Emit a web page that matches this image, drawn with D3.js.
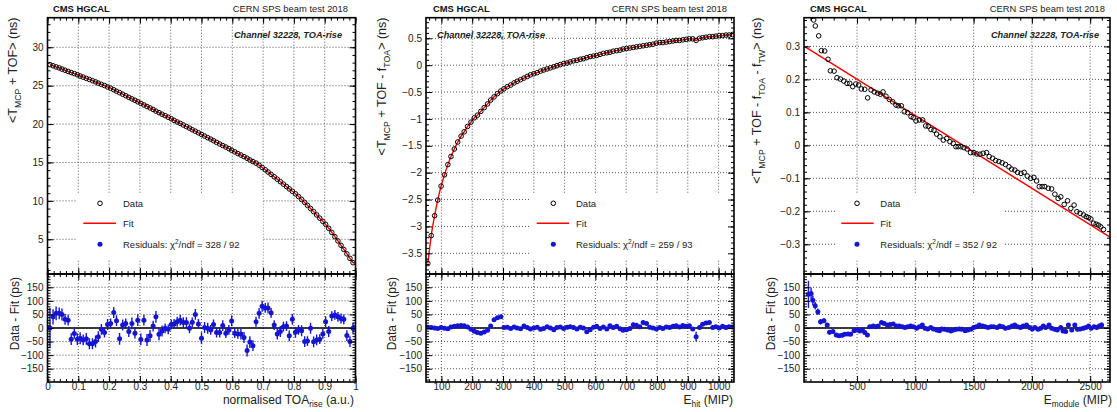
<!DOCTYPE html>
<html><head><meta charset="utf-8">
<script src="https://cdn.jsdelivr.net/npm/d3@7"></script>
<style>body{margin:0;background:#fff}svg{display:block;font-family:"Liberation Sans",Arial,Helvetica,sans-serif}</style>
</head><body><script>
// ---------------- Panel 1 : normalised TOA_rise ----------------
const toaRise = [0.008,0.018,0.028,0.038,0.047,0.057,0.067,0.077,0.087,0.097,
0.106,0.116,0.126,0.136,0.146,0.156,0.165,0.175,0.185,0.195,
0.205,0.215,0.224,0.234,0.244,0.254,0.264,0.274,0.284,0.293,
0.303,0.313,0.323,0.333,0.343,0.352,0.362,0.372,0.382,0.392,
0.402,0.411,0.421,0.431,0.441,0.451,0.461,0.470,0.480,0.490,
0.500,0.510,0.520,0.530,0.539,0.549,0.559,0.569,0.579,0.589,
0.598,0.608,0.618,0.628,0.638,0.648,0.657,0.667,0.677,0.687,
0.697,0.707,0.716,0.726,0.736,0.746,0.756,0.766,0.776,0.785,
0.795,0.805,0.815,0.825,0.835,0.844,0.854,0.864,0.874,0.884,
0.894,0.903,0.913,0.923,0.933,0.943,0.953,0.962,0.972,0.982,
0.992];
const meanT1 = [27.74,27.59,27.44,27.31,27.16,27.01,26.86,26.71,26.57,26.42,
26.26,26.11,25.95,25.81,25.65,25.49,25.33,25.17,25.02,24.83,
24.67,24.47,24.27,24.09,23.89,23.69,23.48,23.28,23.10,22.90,
22.69,22.49,22.29,22.10,21.90,21.69,21.49,21.28,21.10,20.89,
20.69,20.48,20.27,20.09,19.88,19.67,19.47,19.26,19.07,18.86,
18.65,18.44,18.23,18.04,17.84,17.62,17.41,17.20,17.01,16.80,
16.59,16.38,16.16,15.97,15.76,15.55,15.33,15.12,14.92,14.65,
14.35,14.05,13.76,13.45,13.14,12.82,12.50,12.18,11.86,11.56,
11.25,10.92,10.56,10.19,9.80,9.42,9.01,8.60,8.17,7.75,
7.33,6.94,6.43,5.90,5.34,4.78,4.22,3.68,3.10,2.52,
1.95];
const resid1 = [0,41,54,54,50,32,29,-41,-20,-41,
-38,-44,-40,-58,-58,-50,-32,-5,-17,13,
17,57,27,-40,11,17,-13,17,-19,29,
-42,29,-44,-29,7,41,-23,-11,-1,-5,
13,15,23,29,20,20,-1,21,50,15,
-38,2,-1,-7,13,-17,-17,9,-19,-7,
26,-19,-22,-22,-35,-83,-52,-65,23,54,
80,74,74,56,11,-22,-13,5,7,-29,
32,-16,-7,-10,-50,-48,-1,-51,-44,-41,
-22,23,-13,44,48,41,35,32,-28,-50,
-1];
const err1 = [75,28,25,22,22,20,20,22,20,22,
22,20,22,20,20,22,20,20,18,20,
18,20,20,22,20,18,20,22,20,22,
22,20,22,22,20,22,22,20,18,18,
18,18,18,20,20,20,18,18,20,18,
22,20,20,18,18,18,18,20,18,18,
20,18,18,20,20,22,22,20,18,20,
20,18,20,18,18,20,20,18,18,20,
20,20,18,20,20,18,20,20,20,18,
18,20,20,18,18,18,18,18,20,20,
20];

// ---------------- Panel 2 : E_hit ----------------
const eHit = [56,67,78,88,99,110,121,131,142,153,
164,174,185,196,207,217,228,239,250,260,
271,282,293,303,314,325,336,346,357,368,
379,389,400,411,422,432,443,454,465,475,
486,497,508,518,529,540,551,561,572,583,
594,604,615,626,637,647,658,669,680,690,
701,712,723,733,744,755,766,776,787,798,
809,819,830,841,852,862,873,884,895,905,
916,927,938,948,959,970,981,991,1002,1013,
1024,1034,1045];
const meanT2 = [-3.69,-3.17,-2.80,-2.51,-2.25,-2.04,-1.85,-1.70,-1.56,-1.43,
-1.32,-1.24,-1.14,-1.06,-0.98,-0.93,-0.86,-0.79,-0.72,-0.65,
-0.59,-0.53,-0.48,-0.44,-0.40,-0.37,-0.33,-0.30,-0.27,-0.24,
-0.21,-0.18,-0.16,-0.14,-0.11,-0.09,-0.07,-0.05,-0.03,-0.01,
0.01,0.03,0.04,0.06,0.08,0.09,0.11,0.12,0.14,0.16,
0.17,0.18,0.20,0.22,0.23,0.24,0.26,0.27,0.28,0.30,
0.31,0.32,0.33,0.34,0.35,0.36,0.37,0.38,0.39,0.41,
0.42,0.42,0.43,0.44,0.45,0.46,0.46,0.47,0.48,0.49,
0.49,0.46,0.50,0.51,0.52,0.53,0.53,0.54,0.55,0.55,
0.56,0.56,0.57];
const resid2 = [3,2,0,-2,2,-1,-3,4,6,8,
9,8,4,-5,-12,-17,-19,-15,-8,7,
30,38,41,2,3,-2,4,0,-3,7,
2,-4,0,3,-5,-2,5,0,-6,2,
4,-2,3,5,2,-4,3,0,-14,-6,
3,6,-2,4,-4,8,2,6,-3,-8,
-6,-2,12,10,5,20,17,3,0,-4,
2,-2,4,2,6,8,4,9,6,8,
-4,-32,2,14,18,20,2,5,0,6,
2,5,4];
const err2 = [8,6,6,5,5,5,5,5,5,5,
5,5,5,5,5,5,5,5,5,5,
5,6,6,6,5,5,5,5,5,5,
5,5,5,5,5,5,5,5,5,5,
5,5,5,5,5,5,5,5,6,5,
5,5,5,5,5,5,6,5,5,5,
6,6,8,6,6,8,6,5,5,5,
5,5,5,5,6,6,5,6,6,5,
6,18,6,6,6,6,6,6,6,6,
8,6,8];

// ---------------- Panel 3 : E_module ----------------
const eModule = [114,128,142,171,194,223,251,271,303,328,
357,386,414,437,463,489,514,537,566,591,
620,648,677,700,723,748,777,806,834,854,
880,905,934,963,983,1006,1034,1063,1089,1111,
1134,1160,1183,1211,1240,1269,1297,1325,1348,1368,
1391,1417,1445,1474,1503,1528,1554,1582,1611,1634,
1663,1689,1717,1745,1774,1803,1826,1854,1877,1906,
1934,1960,1989,2017,2040,2063,2088,2111,2140,2169,
2197,2225,2248,2277,2306,2334,2362,2386,2414,2443,
2466,2486,2506,2529,2551,2572,2591,2614];
const meanT3 = [0.392,0.38,0.362,0.332,0.287,0.286,0.261,0.226,0.225,0.205,
0.201,0.195,0.188,0.188,0.178,0.186,0.183,0.171,0.170,0.144,
0.168,0.162,0.158,0.155,0.162,0.149,0.139,0.132,0.122,0.120,
0.120,0.102,0.099,0.087,0.084,0.074,0.077,0.077,0.059,0.058,
0.048,0.046,0.034,0.026,0.016,0.021,0.011,0.006,-0.004,-0.004,
-0.004,-0.007,-0.011,-0.022,-0.022,-0.026,-0.027,-0.024,-0.022,-0.034,
-0.039,-0.046,-0.049,-0.053,-0.058,-0.065,-0.072,-0.075,-0.082,-0.085,
-0.082,-0.093,-0.100,-0.097,-0.108,-0.125,-0.125,-0.125,-0.130,-0.132,
-0.148,-0.161,-0.156,-0.179,-0.168,-0.191,-0.181,-0.201,-0.206,-0.211,
-0.216,-0.219,-0.223,-0.236,-0.239,-0.242,-0.247,-0.255];
const fitE3 = [45, 2670];
const fitT3 = [0.301, -0.278];
const eModuleRes = [83,106,121,141,164,187,216,244,264,293,
322,345,371,394,422,445,474,497,523,546,
566,589,609,638,661,681,710,733,761,784,
810,839,862,888,911,934,960,983,1011,1034,
1060,1083,1106,1132,1155,1184,1207,1227,1250,1276,
1305,1328,1351,1376,1399,1428,1451,1477,1500,1523,
1549,1578,1601,1624,1649,1672,1701,1724,1750,1773,
1802,1830,1853,1879,1902,1925,1954,1980,2003,2026,
2052,2075,2098,2118,2147,2170,2195,2218,2247,2267,
2290,2313,2342,2368,2391,2414,2440,2463,2486,2509,
2534,2557,2578,2598];
const resid3 = [124,127,102,82,60,23,27,11,-16,-13,
-26,-29,-27,-23,-22,-23,-10,-7,-11,-7,
-17,-26,5,7,5,7,20,17,11,13,
15,7,7,5,2,5,7,5,-1,5,
11,-1,-4,2,-4,-7,-10,-4,-5,-7,
-11,-7,-5,-4,-5,-10,-7,-5,2,5,
11,7,5,2,5,5,2,7,5,-1,
2,7,11,5,2,7,11,2,-4,2,
-5,-1,7,2,11,-1,-5,-7,2,-11,
-13,11,-7,11,-5,-4,-1,2,7,-1,
5,2,7,11];
const err3 = [50,22,18,14,12,10,9,8,8,7,
7,7,7,6,6,6,6,6,6,6,
6,7,6,6,6,6,6,6,6,6,
6,6,6,6,6,6,6,6,6,6,
6,6,6,6,6,6,6,6,6,6,
6,6,6,6,6,6,6,6,6,6,
6,6,6,6,6,6,6,6,6,6,
6,6,6,6,6,6,6,6,6,6,
6,6,6,6,6,6,6,6,6,7,
7,7,7,7,7,7,7,7,7,7,
7,7,8,9];

const chi2Labels = ["328 / 92", "259 / 93", "352 / 92"];
const legendLabels = ["Data", "Fit", "Residuals: "];
const headerLeft = "CMS HGCAL";
const headerRight = "CERN SPS beam test 2018";
const channelLabel = "Channel 32228, TOA-rise";
const residTitle = "Data - Fit (ps)";
const residDomain = [-199, 199];

// ---------------- layout ----------------
const W = 1117, H = 412;
const FT = 17.7, FM = 274, FB = 382;
const svg = d3.select("body").append("svg").attr("width", W).attr("height", H);

const panels = [
  {x0:47.5, x1:355.5, xDom:[0,1], xT:[10,50], yDom:[0.48,33.85], yT:[7,33],
   X:toaRise, Y:meanT1, fitX:toaRise, fitY:meanT1, RX:toaRise, R:resid1, E:err1, chi:chi2Labels[0],
   hdr:[53,348], chan:[342,"end"], leg:{box:[76,263], mx:100, l:[83.3,116], tx:123},
   yTitleX:12.7, rTitleX:15, xTitleX:354,
   yTitle:[["<T"],["MCP",1],[" + TOF> (ns)"]], xTitle:[["normalised TOA"],["rise",1],[" (a.u.)"]]},
  {x0:426, x1:734, xDom:[50,1050], xT:[10,50], yDom:[-3.885,0.883], yT:[10,48],
   X:eHit, Y:meanT2, fitX:eHit, fitY:meanT2, RX:eHit, R:resid2, E:err2, chi:chi2Labels[1],
   hdr:[433,727], chan:[437,"start"], leg:{box:[531,734], mx:553.3, l:[536.7,569], tx:576},
   yTitleX:381.7, rTitleX:392, xTitleX:733,
   yTitle:[["<T"],["MCP",1],[" + TOF - f"],["TOA",1],["> (ns)"]], xTitle:[["E"],["hit",1],[" (MIP)"]]},
  {x0:804, x1:1110, xDom:[45,2670], xT:[5,26], yDom:[-0.39,0.387], yT:[8,39],
   X:eModule, Y:meanT3, fitX:fitE3, fitY:fitT3, RX:eModuleRes, R:resid3, E:err3, chi:chi2Labels[2],
   hdr:[810,1105], chan:[1099,"end"], leg:{box:[836,1005], mx:857, l:[841.3,873.7], tx:880.3},
   yTitleX:757, rTitleX:771, xTitleX:1112,
   yTitle:[["<T"],["MCP",1],[" + TOF - f"],["TOA",1],[" - f"],["TW",1],["> (ns)"]], xTitle:[["E"],["module",1],[" (MIP)"]]}
];

const fmt = d3.format("~g");
const GRID = "#555";

function richText(sel, parts, fs) {
  const sh = fs * 0.32;
  let shifted = false;
  parts.forEach(p => {
    const t = sel.append("tspan").text(p[0]);
    if (p[1]) { t.attr("font-size", fs * 0.7).attr("dy", sh); shifted = true; }
    else if (shifted) { t.attr("dy", -sh); shifted = false; }
  });
}

function axes(g, xs, ys, xT, yT, showX) {
  const [x0, x1] = xs.range(); const [yb, yt] = ys.range();
  const style = s => { s.select(".domain").remove(); s.selectAll("line").attr("stroke", "#000");
    s.attr("font-family", null).attr("font-size", 10).selectAll("text").attr("fill", "#222"); };
  g.append("g").attr("transform", `translate(${x0},0)`).call(d3.axisLeft(ys).ticks(yT[0]).tickSize(-6).tickPadding(4).tickFormat(fmt)).call(style);
  g.append("g").attr("transform", `translate(${x0},0)`).call(d3.axisLeft(ys).ticks(yT[1]).tickSize(-3).tickFormat("")).call(style);
  g.append("g").attr("transform", `translate(${x1},0)`).call(d3.axisRight(ys).ticks(yT[0]).tickSize(-6).tickFormat("")).call(style);
  g.append("g").attr("transform", `translate(${x1},0)`).call(d3.axisRight(ys).ticks(yT[1]).tickSize(-3).tickFormat("")).call(style);
  g.append("g").attr("transform", `translate(0,${yb})`).call(d3.axisBottom(xs).ticks(xT[0]).tickSize(-6).tickPadding(1).tickFormat(showX ? fmt : "")).call(style);
  g.append("g").attr("transform", `translate(0,${yb})`).call(d3.axisBottom(xs).ticks(xT[1]).tickSize(-3).tickFormat("")).call(style);
  g.append("g").attr("transform", `translate(0,${yt})`).call(d3.axisTop(xs).ticks(xT[0]).tickSize(-6).tickFormat("")).call(style);
  g.append("g").attr("transform", `translate(0,${yt})`).call(d3.axisTop(xs).ticks(xT[1]).tickSize(-3).tickFormat("")).call(style);
}

function grid(g, xs, ys, xT, yT) {
  const [x0, x1] = xs.range(); const [yb, yt] = ys.range();
  g.selectAll(null).data(xs.ticks(xT[0])).join("line")
    .attr("x1", d => xs(d)).attr("x2", d => xs(d)).attr("y1", yt).attr("y2", yb)
    .attr("stroke", GRID).attr("stroke-width", 1).attr("stroke-dasharray", "1,2");
  g.selectAll(null).data(ys.ticks(yT[0])).join("line")
    .attr("y1", d => ys(d)).attr("y2", d => ys(d)).attr("x1", x0).attr("x2", x1)
    .attr("stroke", GRID).attr("stroke-width", 1).attr("stroke-dasharray", "1,2");
}

panels.forEach((p, i) => {
  const g = svg.append("g");
  const xs = d3.scaleLinear().domain(p.xDom).range([p.x0, p.x1]);
  const yTop = d3.scaleLinear().domain(p.yDom).range([FM, FT]);
  const yRes = d3.scaleLinear().domain(residDomain).range([FB, FM]);

  const clipT = "clipT" + i, clipB = "clipB" + i;
  svg.append("clipPath").attr("id", clipT).append("rect").attr("x", p.x0).attr("y", FT).attr("width", p.x1 - p.x0).attr("height", FM - FT);
  svg.append("clipPath").attr("id", clipB).append("rect").attr("x", p.x0).attr("y", FM).attr("width", p.x1 - p.x0).attr("height", FB - FM);

  grid(g, xs, yTop, p.xT, p.yT);
  grid(g, xs, yRes, p.xT, [8, 40]);

  // top: fit + data
  const gt = g.append("g").attr("clip-path", `url(#${clipT})`);
  const fitPts = p.fitX.map((x, k) => [x, p.fitY[k]]);
  gt.append("path").datum(fitPts)
    .attr("d", d3.line().x(d => xs(d[0])).y(d => yTop(d[1])).curve(d3.curveMonotoneX))
    .attr("fill", "none").attr("stroke", "#f00").attr("stroke-width", 1.4);
  gt.selectAll(null).data(p.X.map((x, k) => [x, p.Y[k]])).join("circle")
    .attr("cx", d => xs(d[0])).attr("cy", d => yTop(d[1])).attr("r", 2.3)
    .attr("fill", "none").attr("stroke", "#000").attr("stroke-width", 1);

  // legend
  const L = p.leg, fsL = 9.5;
  g.append("rect").attr("x", L.box[0]).attr("y", 194).attr("width", L.box[1] - L.box[0]).attr("height", 66).attr("fill", "#fff");
  g.append("circle").attr("cx", L.mx).attr("cy", 203.3).attr("r", 2.3).attr("fill", "none").attr("stroke", "#000");
  g.append("line").attr("x1", L.l[0]).attr("x2", L.l[1]).attr("y1", 223.3).attr("y2", 223.3).attr("stroke", "#f00").attr("stroke-width", 1.4);
  g.append("circle").attr("cx", L.mx).attr("cy", 244.3).attr("r", 2.5).attr("fill", "#1414d2");
  g.append("text").attr("x", L.tx).attr("y", 206.7).attr("font-size", fsL).attr("fill", "#222").text(legendLabels[0]);
  g.append("text").attr("x", L.tx).attr("y", 226.7).attr("font-size", fsL).attr("fill", "#222").text(legendLabels[1]);
  const rt = g.append("text").attr("x", L.tx).attr("y", 247.7).attr("font-size", fsL).attr("fill", "#222");
  rt.append("tspan").text(legendLabels[2] + "χ");
  rt.append("tspan").attr("font-size", 6.5).attr("dy", -3.5).text("2");
  rt.append("tspan").attr("dy", 3.5).text("/ndf = " + p.chi);

  // residuals
  const gb = g.append("g").attr("clip-path", `url(#${clipB})`);
  gb.append("line").attr("x1", p.x0).attr("x2", p.x1).attr("y1", yRes(0)).attr("y2", yRes(0)).attr("stroke", "#000").attr("stroke-width", 1.6);
  const rd = p.RX.map((x, k) => [x, p.R[k], p.E[k]]);
  gb.selectAll(null).data(rd).join("line")
    .attr("x1", d => xs(d[0])).attr("x2", d => xs(d[0]))
    .attr("y1", d => yRes(d[1] - d[2])).attr("y2", d => yRes(d[1] + d[2]))
    .attr("stroke", "#1414d2").attr("stroke-width", 1.4);
  gb.selectAll(null).data(rd).join("circle")
    .attr("cx", d => xs(d[0])).attr("cy", d => yRes(d[1])).attr("r", 2.5).attr("fill", "#1414d2");

  // axes
  axes(g, xs, yTop, p.xT, p.yT, false);
  axes(g, xs, yRes, p.xT, [8, 40], true);

  // frames
  g.append("rect").attr("x", p.x0).attr("y", FT).attr("width", p.x1 - p.x0).attr("height", FM - FT).attr("fill", "none").attr("stroke", "#000").attr("stroke-width", 1.6);
  g.append("rect").attr("x", p.x0).attr("y", FM).attr("width", p.x1 - p.x0).attr("height", FB - FM).attr("fill", "none").attr("stroke", "#000").attr("stroke-width", 1.6);

  // headers
  g.append("text").attr("x", p.hdr[0]).attr("y", 11.5).attr("font-size", 9.4).attr("font-weight", "bold").attr("fill", "#111").text(headerLeft);
  g.append("text").attr("x", p.hdr[1]).attr("y", 11.5).attr("font-size", 9.4).attr("text-anchor", "end").attr("fill", "#222").text(headerRight);
  g.append("text").attr("x", p.chan[0]).attr("y", 37.5).attr("font-size", 9.2).attr("font-weight", "bold").attr("font-style", "italic")
    .attr("text-anchor", p.chan[1]).attr("fill", "#222").text(channelLabel);

  // axis titles
  const fsT = 12.5;
  const yt = g.append("text").attr("transform", `translate(${p.yTitleX},17.5) rotate(-90)`).attr("text-anchor", "end")
    .attr("dy", "0.35em").attr("font-size", fsT).attr("fill", "#222");
  richText(yt, p.yTitle, fsT);
  g.append("text").attr("transform", `translate(${p.rTitleX},277) rotate(-90)`).attr("text-anchor", "end")
    .attr("dy", "0.35em").attr("font-size", 12).attr("fill", "#222").text(residTitle);
  const xt = g.append("text").attr("x", p.xTitleX).attr("y", 403.5).attr("text-anchor", "end").attr("font-size", 12).attr("fill", "#222");
  richText(xt, p.xTitle, 12);
});
</script></body></html>
